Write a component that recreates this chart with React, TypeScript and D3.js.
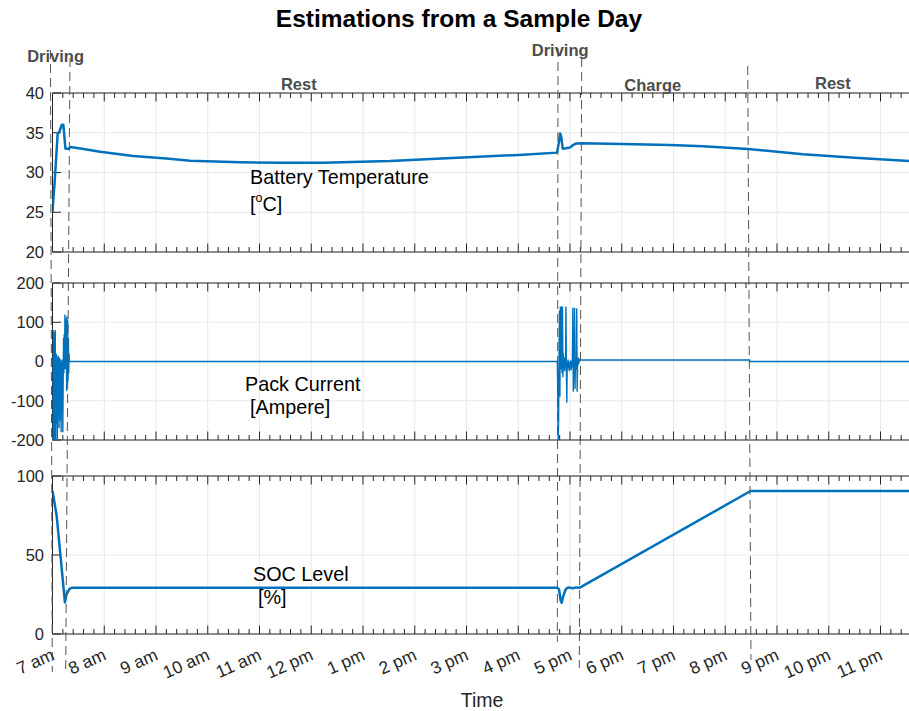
import React from 'react';
import * as d3 from 'd3';

const W = 909;
const H = 711;
const BLUE = '#0072BD';
const AX = '#262626';
const GRID = '#e9e9e9';
const FONT = '"Liberation Sans", Arial, Helvetica, sans-serif';

// ---------- data ----------
const hourTicks = [7, 8, 9, 10, 11, 12, 13, 14, 15, 16, 17, 18, 19, 20, 21, 22, 23];
const hourLabels = ['7 am', '8 am', '9 am', '10 am', '11 am', '12 pm', '1 pm', '2 pm', '3 pm', '4 pm', '5 pm', '6 pm', '7 pm', '8 pm', '9 pm', '10 pm', '11 pm'];

const tempHours = [7.0, 7.02, 7.04, 7.1, 7.13, 7.18, 7.21, 7.25, 7.31, 7.35, 7.6, 7.92, 8.56, 9.2, 9.66, 10.62, 11.4, 12.23, 13.52, 14.82, 16.09, 16.75, 16.78, 16.81, 16.83, 16.86, 16.92, 17.0, 17.06, 17.12, 17.23, 18.0, 18.93, 19.57, 20.44, 21.5, 22.5, 23.6];
const tempValues = [25.0, 27.0, 28.6, 34.9, 35.1, 36.0, 36.0, 33.0, 33.0, 33.2, 32.95, 32.6, 32.07, 31.75, 31.49, 31.28, 31.22, 31.23, 31.45, 31.86, 32.24, 32.5, 33.6, 34.9, 34.5, 33.0, 33.05, 33.15, 33.45, 33.65, 33.67, 33.6, 33.46, 33.3, 32.95, 32.3, 31.85, 31.42];

const drive1StartHour = 7.0;
const drive1StepMin = 0.4;
const drive1Current = [10, -200, 80, -150, 75, -200, 40, -120, 80, -200, -30, 20, -160, 10, -200, -50, 15, -140, 0, -170, 10, -90, -20, -150, 5, -180, -60, 0, -130, 5, -180, -40, 60, -30, 70, 10, 120, -20, 110, 40, 100, -75, 115, 10, 105, -50, 60, -30, 20, 0];

const drive2StartHour = 16.755;
const drive2StepMin = 0.5;
const drive2Current = [0, -80, -200, -150, 20, 130, -90, 140, -20, 140, 0, -30, 140, -40, 20, -10, 10, -25, 5, -15, 140, -20, -105, 0, -20, 5, -15, -5, -25, 0, -18, 3, -22, -8, -15, 5, 137, -77, 0, -10, 137, -70, -5, -20, 5, 135, -77, 0, -10, 10, -5, 5, 4];

const chargeCurrent = 4;
const chargeEndHour = 20.47;
const restCurrent = 0;
const endHour = 23.6;

const socHours = [7.0, 7.08, 7.24, 7.27, 7.33, 7.38, 16.76, 16.79, 16.82, 16.84, 16.87, 16.92, 16.97, 17.05, 17.12, 17.19, 20.49, 23.6];
const socValues = [90.5, 75, 20, 25, 28.5, 29.3, 29.3, 28, 21, 19.8, 24, 28.5, 29.5, 29.0, 29.5, 29.3, 90.5, 90.5];

const phaseNames = ['Driving', 'Rest', 'Driving', 'Charge', 'Rest'];
const phaseCenterHours = [7.06, 11.76, 16.81, 18.6, 22.08];
const boundaryTopHours = [6.961, 7.338, 16.768, 17.226, 20.434];
const boundaryBottomHours = [6.996, 7.255, 16.755, 17.18, 20.497];

const tempTicks = [20, 25, 30, 35, 40];
const currentTicks = [-200, -100, 0, 100, 200];
const socTicks = [0, 50, 100];

// ---------- layout ----------
const x = d3.scaleLinear().domain([7, endHour]).range([52.5, 52.5 + (endHour - 7) * 51.75]);
const plotLeft = 52.5;
const plotRight = W + 5;

const panels = [
  { id: 'p1', ticks: tempTicks, y: d3.scaleLinear().domain([20, 40]).range([252, 93]) },
  { id: 'p2', ticks: currentTicks, y: d3.scaleLinear().domain([-200, 200]).range([440, 283]) },
  { id: 'p3', ticks: socTicks, y: d3.scaleLinear().domain([0, 100]).range([634, 476]) },
];

const phaseLabelY = [62, 90, 56, 91, 89];
const boundaryTopY = [50, 58, 48, 58, 66];
const boundaryBottomY = [672, 670, 642, 668, 660];

const minorTicks = d3.range(7, endHour, 0.2).filter((h) => Math.abs(h - Math.round(h)) > 0.01);

function buildCurrent(): [number, number][] {
  const pts: [number, number][] = [];
  drive1Current.forEach((v, i) => pts.push([drive1StartHour + (i * drive1StepMin) / 60, v]));
  pts.push([drive2StartHour, restCurrent]);
  drive2Current.forEach((v, i) => pts.push([drive2StartHour + (i * drive2StepMin) / 60, v]));
  pts.push([chargeEndHour, chargeCurrent]);
  pts.push([chargeEndHour + 0.002, restCurrent]);
  pts.push([endHour, restCurrent]);
  return pts;
}

export default function App() {
  const [p1, p2, p3] = panels;
  const tempLine = d3.line<number>().x((_, i) => x(tempHours[i])).y((v) => p1.y(v));
  const curLine = d3.line<[number, number]>().x((d) => x(d[0])).y((d) => p2.y(d[1]));
  const socLine = d3.line<number>().x((_, i) => x(socHours[i])).y((v) => p3.y(v));
  const currentPts = buildCurrent();

  const renderPanel = (p: typeof panels[number]) => {
    const [yb, yt] = p.y.range();
    return (
      <g key={p.id}>
        {hourTicks.map((h) => (
          <line key={'gx' + h} x1={x(h)} x2={x(h)} y1={yt} y2={yb} stroke={GRID} strokeWidth={1} />
        ))}
        {p.ticks.map((t) => (
          <line key={'gy' + t} x1={plotLeft} x2={plotRight} y1={p.y(t)} y2={p.y(t)} stroke={GRID} strokeWidth={1} />
        ))}
        {hourTicks.map((h) => (
          <g key={'tx' + h}>
            <line x1={x(h)} x2={x(h)} y1={yb} y2={yb - 8.5} stroke={AX} strokeWidth={1} />
            <line x1={x(h)} x2={x(h)} y1={yt} y2={yt + 8.5} stroke={AX} strokeWidth={1} />
          </g>
        ))}
        {minorTicks.map((h) => (
          <g key={'mx' + h}>
            <line x1={x(h)} x2={x(h)} y1={yb} y2={yb - 5} stroke={AX} strokeWidth={1} />
            <line x1={x(h)} x2={x(h)} y1={yt} y2={yt + 5} stroke={AX} strokeWidth={1} />
          </g>
        ))}
        {p.ticks.map((t) => (
          <g key={'ty' + t}>
            <line x1={plotLeft} x2={plotLeft + 8.5} y1={p.y(t)} y2={p.y(t)} stroke={AX} strokeWidth={1} />
            <text x={44} y={p.y(t)} dy="0.36em" textAnchor="end" fontSize={16.5} fill={AX} fontFamily={FONT}>
              {t}
            </text>
          </g>
        ))}
        <line x1={plotLeft} x2={plotRight} y1={yt} y2={yt} stroke={AX} strokeWidth={1} />
        <line x1={plotLeft} x2={plotRight} y1={yb} y2={yb} stroke={AX} strokeWidth={1} />
        <line x1={plotLeft} x2={plotLeft} y1={yt} y2={yb} stroke={AX} strokeWidth={1} />
        <clipPath id={'clip-' + p.id}>
          <rect x={plotLeft} y={yt - 1} width={plotRight - plotLeft} height={yb - yt + 2} />
        </clipPath>
      </g>
    );
  };

  return (
    <svg width={W} height={H} style={{ position: 'absolute', left: 0, top: 0, background: '#fff' }} fontFamily={FONT}>
      <rect x={0} y={0} width={W} height={H} fill="#fff" />
      {panels.map(renderPanel)}

      <g clipPath="url(#clip-p1)">
        <path d={tempLine(tempValues) || ''} fill="none" stroke={BLUE} strokeWidth={2.5} strokeLinejoin="round" />
      </g>
      <g clipPath="url(#clip-p2)">
        <path d={curLine(currentPts) || ''} fill="none" stroke={BLUE} strokeWidth={1.4} strokeLinejoin="miter" />
      </g>
      <g clipPath="url(#clip-p3)">
        <path d={socLine(socValues) || ''} fill="none" stroke={BLUE} strokeWidth={2.5} strokeLinejoin="round" />
      </g>

      {boundaryTopHours.map((h, i) => (
        <line
          key={'b' + i}
          x1={x(h)}
          y1={boundaryTopY[i]}
          x2={x(boundaryBottomHours[i])}
          y2={boundaryBottomY[i]}
          stroke="#555"
          strokeWidth={1}
          strokeDasharray="9,5"
        />
      ))}

      {phaseNames.map((n, i) => (
        <text key={'ph' + i} x={x(phaseCenterHours[i])} y={phaseLabelY[i]} textAnchor="middle" fontSize={16.5} fontWeight="bold" fill="#4d4d4d">
          {n}
        </text>
      ))}

      {hourTicks.map((h, i) => (
        <text
          key={'xl' + h}
          transform={`translate(${x(h) + 3},${659}) rotate(-24)`}
          textAnchor="end"
          fontSize={17.5}
          fill={AX}
        >
          {hourLabels[i]}
        </text>
      ))}

      <text x={250} y={184} fontSize={19.8} fill="#000">Battery Temperature</text>
      <text x={250} y={211} fontSize={19.8} fill="#000">
        [<tspan dy={-9} fontSize={12.5}>o</tspan>
        <tspan dy={9}>C]</tspan>
      </text>
      <text x={245} y={391} fontSize={19.8} fill="#000">Pack Current</text>
      <text x={250} y={414} fontSize={19.8} fill="#000">[Ampere]</text>
      <text x={253} y={581} fontSize={19.8} fill="#000">SOC Level</text>
      <text x={258} y={604} fontSize={19.8} fill="#000">[%]</text>

      <text x={482} y={707} textAnchor="middle" fontSize={19.5} fill={AX}>Time</text>
      <text x={459} y={27} textAnchor="middle" fontSize={24.5} fontWeight="bold" fill="#000">
        Estimations from a Sample Day
      </text>
    </svg>
  );
}
